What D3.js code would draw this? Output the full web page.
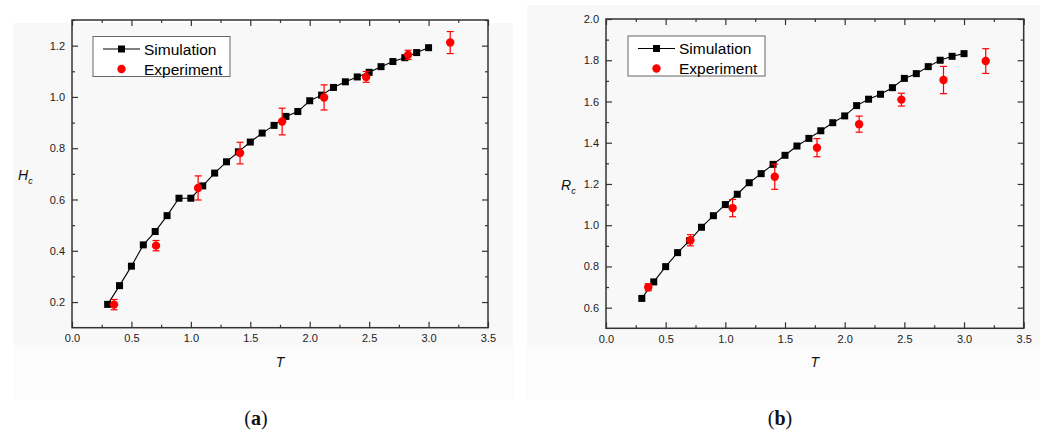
<!DOCTYPE html>
<html lang="en">
<head>
<meta charset="utf-8">
<script src="https://d3js.org/d3.v7.min.js"></script>
<style>
  body { margin:0; background:#fff; }
  svg { display:block; font-family:"Liberation Sans", Arial, sans-serif; }
  .tick text { font-size:11px; fill:#222; }
  .tick line { stroke:#333; stroke-width:1.2; }
</style>
</head>
<body>
<script>
// simulation T values (shared by both panels)
const simT = [0.3,0.4,0.5,0.6,0.7,0.8,0.9,1.0,1.1,1.2,1.3,1.4,1.5,1.6,1.7,1.8,1.9,2.0,2.1,2.2,2.3,2.4,2.5,2.6,2.7,2.8,2.9,3.0];
const simH = [0.191,0.264,0.340,0.423,0.475,0.537,0.605,0.605,0.653,0.703,0.747,0.786,0.824,0.859,0.889,0.924,0.943,0.985,1.007,1.037,1.059,1.078,1.096,1.118,1.138,1.153,1.173,1.192];
const simR = [0.645,0.725,0.799,0.867,0.925,0.990,1.046,1.100,1.150,1.206,1.250,1.295,1.339,1.384,1.421,1.458,1.497,1.530,1.580,1.611,1.635,1.667,1.712,1.735,1.769,1.800,1.819,1.832];

// experiment
const expT = [0.354,0.707,1.061,1.414,1.768,2.121,2.475,2.828,3.182];
const expH = [0.190,0.420,0.645,0.781,0.904,0.998,1.078,1.164,1.212];
const errH = [0.020,0.020,0.047,0.042,0.052,0.049,0.021,0.018,0.043];
const expR = [0.699,0.927,1.083,1.235,1.376,1.490,1.609,1.704,1.796];
const errR = [0.017,0.027,0.042,0.061,0.044,0.039,0.031,0.066,0.060];

// ticks
const xTicks = [0,0.5,1.0,1.5,2.0,2.5,3.0,3.5];
const xMinor = [0.25,0.75,1.25,1.75,2.25,2.75,3.25];
const hTicks = [0.2,0.4,0.6,0.8,1.0,1.2];
const hMinor = [0.1,0.3,0.5,0.7,0.9,1.1,1.3];
const rTicks = [0.6,0.8,1.0,1.2,1.4,1.6,1.8,2.0];
const rMinor = [0.5,0.7,0.9,1.1,1.3,1.5,1.7,1.9];

const W = 1044, H = 430;
const svg = d3.select("body").append("svg").attr("width", W).attr("height", H);

// light panel backgrounds
svg.append("rect").attr("x",13).attr("y",23).attr("width",500).attr("height",322).attr("fill","#f8f8f8");
svg.append("rect").attr("x",13).attr("y",345).attr("width",500).attr("height",55).attr("fill","#fcfcfc");
svg.append("rect").attr("x",527).attr("y",5).attr("width",513).attr("height",340).attr("fill","#f8f8f8");
svg.append("rect").attr("x",527).attr("y",345).attr("width",513).attr("height",55).attr("fill","#fcfcfc");

function panel(p) {
  const x = d3.scaleLinear().domain([0,3.5]).range([p.left, p.right]);
  const y = d3.scaleLinear().domain(p.yDomain).range([p.bottom, p.top]);
  const g = svg.append("g");
  const fmt = d3.format(".1f");

  // axes (ticks pointing inwards)
  const addAxis = (axis, tx, ty, vals, size, labels) => {
    const a = g.append("g").attr("transform", `translate(${tx},${ty})`)
      .call(axis.tickValues(vals).tickSize(-size).tickPadding(7).tickFormat(labels ? fmt : ""));
    a.select(".domain").remove();
    return a;
  };
  addAxis(d3.axisBottom(x), 0, p.bottom, xTicks, 6, true);
  addAxis(d3.axisBottom(x), 0, p.bottom, xMinor, 3, false);
  addAxis(d3.axisTop(x), 0, p.top, xTicks, 6, false);
  addAxis(d3.axisTop(x), 0, p.top, xMinor, 3, false);
  addAxis(d3.axisLeft(y), p.left, 0, p.yTicks, 6, true);
  addAxis(d3.axisLeft(y), p.left, 0, p.yMinor.filter(v => v > p.yDomain[0]), 3, false);
  addAxis(d3.axisRight(y), p.right, 0, p.yTicks, 6, false);
  addAxis(d3.axisRight(y), p.right, 0, p.yMinor.filter(v => v > p.yDomain[0]), 3, false);

  g.append("rect")
    .attr("x", p.left).attr("y", p.top)
    .attr("width", p.right - p.left).attr("height", p.bottom - p.top)
    .attr("fill", "none").attr("stroke", "#333").attr("stroke-width", 1.5);

  // simulation line + squares
  const sim = simT.map((t, i) => [t, p.sim[i]]);
  g.append("path").datum(sim)
    .attr("d", d3.line().x(d => x(d[0])).y(d => y(d[1])))
    .attr("fill", "none").attr("stroke", "#000").attr("stroke-width", 1.1);
  g.selectAll(".sq").data(sim).join("rect")
    .attr("x", d => x(d[0]) - 3.5).attr("y", d => y(d[1]) - 3.5)
    .attr("width", 7).attr("height", 7).attr("fill", "#000");

  // experiment with error bars
  const exp = expT.map((t, i) => ({t, v: p.exp[i], e: p.err[i]}));
  const eb = g.selectAll(".eb").data(exp).join("g").attr("stroke", "#f00").attr("stroke-width", 1.2);
  eb.append("line").attr("x1", d => x(d.t)).attr("x2", d => x(d.t))
    .attr("y1", d => y(d.v - d.e)).attr("y2", d => y(d.v + d.e));
  eb.append("line").attr("x1", d => x(d.t) - 3.5).attr("x2", d => x(d.t) + 3.5)
    .attr("y1", d => y(d.v - d.e)).attr("y2", d => y(d.v - d.e));
  eb.append("line").attr("x1", d => x(d.t) - 3.5).attr("x2", d => x(d.t) + 3.5)
    .attr("y1", d => y(d.v + d.e)).attr("y2", d => y(d.v + d.e));
  g.selectAll(".dot").data(exp).join("circle")
    .attr("cx", d => x(d.t)).attr("cy", d => y(d.v)).attr("r", 4.2).attr("fill", "#f00");

  // legend
  const L = g.append("g").attr("transform", `translate(${p.leg[0]},${p.leg[1]})`);
  L.append("rect").attr("width", 137).attr("height", 40).attr("fill", "#fff")
    .attr("stroke", "#666").attr("stroke-width", 1);
  L.append("line").attr("x1", 10).attr("x2", 47).attr("y1", 12.5).attr("y2", 12.5).attr("stroke", "#000").attr("stroke-width", 1.1);
  L.append("rect").attr("x", 25).attr("y", 9).attr("width", 7).attr("height", 7).attr("fill", "#000");
  L.append("circle").attr("cx", 28.5).attr("cy", 32.5).attr("r", 4.2).attr("fill", "#f00");
  L.append("text").attr("x", 51).attr("y", 18).attr("font-size", 15.5).attr("fill", "#000").text("Simulation");
  L.append("text").attr("x", 51).attr("y", 38).attr("font-size", 15.5).attr("fill", "#000").text("Experiment");

  // axis titles
  g.append("text").attr("x", (p.left + p.right) / 2).attr("y", 367)
    .attr("text-anchor", "middle").attr("font-size", 14).attr("font-style", "italic").attr("fill", "#111").text("T");
  const yl = g.append("text").attr("x", p.yLabelX).attr("y", p.yLabelY)
    .attr("font-size", 14).attr("font-style", "italic").attr("fill", "#111");
  yl.append("tspan").text(p.yName);
  yl.append("tspan").attr("dy", 4).attr("font-size", 9).text("c");

  // caption
  const cap = svg.append("text").attr("x", p.capX).attr("y", 425).attr("text-anchor", "middle")
    .attr("font-family", "'Liberation Serif', 'DejaVu Serif', serif").attr("font-size", 20).attr("fill", "#111");
  cap.append("tspan").text("(");
  cap.append("tspan").attr("font-weight", "bold").text(p.cap);
  cap.append("tspan").text(")");
}

panel({left:72, right:488, top:20, bottom:327.7, yDomain:[0.1,1.3], yTicks:hTicks, yMinor:hMinor,
       sim:simH, exp:expH, err:errH, leg:[93,36.5], yName:"H", yLabelX:18, yLabelY:180, cap:"a", capX:256});
panel({left:606, right:1023.7, top:19, bottom:328.3, yDomain:[0.5,2.0], yTicks:rTicks, yMinor:rMinor,
       sim:simR, exp:expR, err:errR, leg:[628,36], yName:"R", yLabelX:561, yLabelY:190, cap:"b", capX:780});
</script>
</body>
</html>
